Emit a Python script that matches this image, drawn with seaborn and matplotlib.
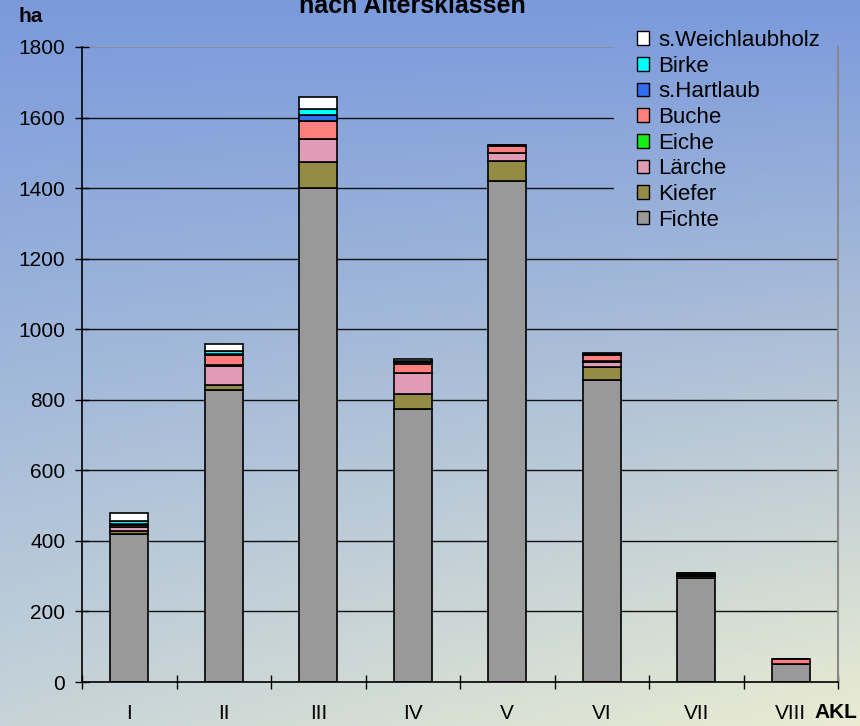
import numpy as np
import matplotlib
matplotlib.use("Agg")
import matplotlib.pyplot as plt
from matplotlib.patches import Patch
import seaborn as sns

# Flaeche je Baumart und Altersklasse (ha)
akl = ['I', 'II', 'III', 'IV', 'V', 'VI', 'VII', 'VIII']
fichte = [420, 828, 1400, 775, 1420, 856, 295, 51]
kiefer = [8, 14, 73, 40, 58, 38, 5, 0]
laerche = [10, 55, 65, 60, 22, 14, 3, 0]
eiche = [1, 2, 0, 2, 0, 1, 0, 0]
buche = [5, 28, 52, 24, 18, 18, 3, 13]
hartlaub = [4, 3, 17, 6, 2, 2, 1, 0]
birke = [8, 7, 17, 3, 1, 2, 1, 0]
weichlaub = [23, 22, 33, 5, 2, 2, 0, 0]

arten = ['Fichte', 'Kiefer', 'Lärche', 'Eiche', 'Buche', 's.Hartlaub', 'Birke', 's.Weichlaubholz']
werte = [fichte, kiefer, laerche, eiche, buche, hartlaub, birke, weichlaub]
farben = ['#999999', '#948b44', '#df9cb4', '#14ee14', '#ff7f7f', '#2f6fef', '#00ffff', '#ffffff']

sns.set_style("white")
plt.rcParams['font.family'] = ['Liberation Sans', 'DejaVu Sans']
plt.rcParams['text.color'] = 'black'
plt.rcParams['xtick.color'] = 'black'
plt.rcParams['ytick.color'] = 'black'
plt.rcParams['xtick.labelcolor'] = 'black'
plt.rcParams['ytick.labelcolor'] = 'black'

fig = plt.figure(figsize=(8.6, 7.26), dpi=100)

# Hintergrund-Verlauf (blau oben, hell beige unten)
h, w = 200, 200
yy, xx = np.mgrid[0:1:h * 1j, 0:1:w * 1j]
top = np.array([122, 154, 220]) / 255
bot_l = np.array([198, 212, 216]) / 255
bot_r = np.array([234, 236, 210]) / 255
bot = bot_l[None, None, :] * (1 - xx[..., None]) + bot_r[None, None, :] * xx[..., None]
s = yy[..., None]
grad = top[None, None, :] * (1 - s) + bot * s
bg = fig.add_axes([0, 0, 1, 1], zorder=-1)
bg.imshow(grad, aspect='auto', extent=[0, 1, 0, 1], origin='upper')
bg.axis('off')

ax = fig.add_axes([82 / 860, 44 / 726, 756 / 860, 635 / 726])
ax.patch.set_alpha(0)

# Gitterlinien, oben durch die Legende verdeckt
for g in range(200, 1800, 200):
    xmax = 0.702 if g >= 1400 else 1
    ax.axhline(g, xmin=0, xmax=xmax, color='#111111', lw=1, zorder=0)
ax.axhline(1800, xmin=0, xmax=0.702, color='#8a8a8a', lw=1.2, zorder=0)

unten = np.zeros(len(akl))
for art, v, c in zip(arten, werte, farben):
    sns.barplot(x=akl, y=v, bottom=unten, color=c, saturation=1, width=0.4,
                edgecolor='black', linewidth=1.2, order=akl, ax=ax, zorder=2)
    unten = unten + np.array(v)

ax.set_xlim(-0.5, 7.5)
ax.set_ylim(0, 1800)
ax.set_yticks(range(0, 2000, 200))
ax.set_xlabel('')
ax.set_ylabel('')
ax.set_xticks(np.arange(-0.5, 8, 1), minor=True)
ax.tick_params(axis='x', which='major', length=0, labelsize=15, pad=16)
ax.tick_params(axis='x', which='minor', direction='inout', length=10, width=1, color='black', bottom=True)
ax.tick_params(axis='y', direction='inout', length=10, width=1, color='black', labelsize=15, pad=7, left=True)

ax.spines['top'].set_visible(False)
ax.spines['left'].set_color('black')
ax.spines['bottom'].set_color('black')
ax.spines['right'].set_color('#888888')
for sp in ['left', 'bottom']:
    ax.spines[sp].set_linewidth(1.2)
ax.spines['right'].set_linewidth(1.5)

handles = [Patch(facecolor=c, edgecolor='black', lw=1) for c in farben][::-1]
ax.legend(handles, arten[::-1], loc='upper left', bbox_to_anchor=(637 / 860, 1 - 30 / 726),
          bbox_transform=fig.transFigure, frameon=False, fontsize=16,
          handlelength=0.55, handleheight=0.55, handletextpad=0.4, labelspacing=0.21,
          borderaxespad=0, borderpad=0)

fig.text(412 / 860, 1 - 13 / 726, 'nach Altersklassen', ha='center', va='baseline',
         fontsize=18, fontweight='bold')
fig.text(19 / 860, 1 - 16 / 726, 'ha', ha='left', va='center', fontsize=15, fontweight='bold')
fig.text(814 / 860, 1 - 712 / 726, 'AKL', ha='left', va='center', fontsize=15, fontweight='bold')

fig.savefig('out.png', dpi=100)
